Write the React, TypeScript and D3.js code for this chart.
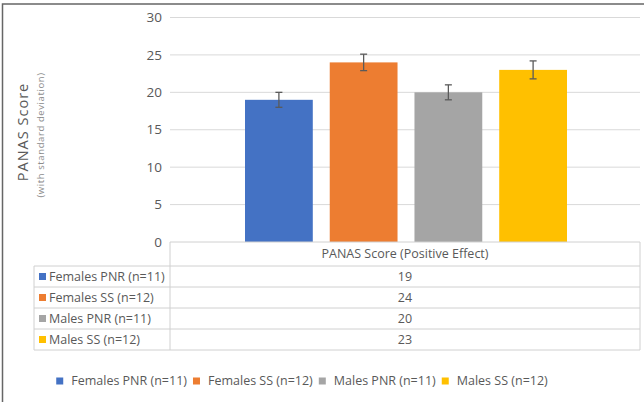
import React, { useEffect, useRef } from "react";
import * as d3 from "d3";

const categories = ["PANAS Score (Positive Effect)"];
const seriesNames = [
  "Females PNR (n=11)",
  "Females SS (n=12)",
  "Males PNR (n=11)",
  "Males SS (n=12)",
];
const seriesValues = [19, 24, 20, 23];
const seriesSD = [1.0, 1.1, 1.0, 1.2];
const seriesColors = ["#4472C4", "#ED7D31", "#A5A5A5", "#FFC000"];
const yTicks = [0, 5, 10, 15, 20, 25, 30];
const yTitle = "PANAS Score";
const ySubtitle = "(with standard deviation)";

const W = 644;
const H = 402;
const FONT = "'Open Sans', 'Noto Sans', sans-serif";
const TXT = "#595959";
const GRID = "#d9d9d9";
const TABLE = "#d0d0d0";

export default function App() {
  const ref = useRef<SVGSVGElement | null>(null);

  useEffect(() => {
    const svg = d3.select(ref.current);
    svg.selectAll("*").remove();

    const plotLeft = 170;
    const plotRight = 640;
    const y = d3.scaleLinear().domain([0, 30]).range([242, 17.5]);
    const xCat = d3
      .scaleBand<string>()
      .domain(categories)
      .range([plotLeft, plotRight])
      .paddingOuter(0);
    const catX = xCat(categories[0])!;
    const catW = xCat.bandwidth();
    const innerPad = 75;
    const xSeries = d3
      .scaleBand<string>()
      .domain(seriesNames)
      .range([catX + innerPad, catX + catW - innerPad + 2])
      .paddingInner(0.2)
      .paddingOuter(0);

    // frame
    svg
      .append("path")
      .attr("d", `M2.5,402 L2.5,4 L644,4`)
      .attr("fill", "none")
      .attr("stroke", "#666")
      .attr("stroke-width", 1.5);

    // gridlines
    svg
      .append("g")
      .selectAll("line")
      .data(yTicks.filter((t) => t > 0))
      .join("line")
      .attr("x1", plotLeft)
      .attr("x2", plotRight)
      .attr("y1", (d) => y(d))
      .attr("y2", (d) => y(d))
      .attr("stroke", GRID)
      .attr("stroke-width", 1);

    // tick labels
    svg
      .append("g")
      .selectAll("text")
      .data(yTicks)
      .join("text")
      .attr("x", 162)
      .attr("y", (d) => y(d))
      .attr("dy", "0.35em")
      .attr("text-anchor", "end")
      .attr("font-family", FONT)
      .attr("font-size", 13.5)
      .attr("fill", TXT)
      .text((d) => d);

    // y title
    svg
      .append("text")
      .attr("transform", `translate(28,132) rotate(-90)`)
      .attr("text-anchor", "middle")
      .attr("font-family", FONT)
      .attr("font-size", 14.5)
      .attr("letter-spacing", 1)
      .attr("fill", TXT)
      .text(yTitle);
    svg
      .append("text")
      .attr("transform", `translate(44,135) rotate(-90)`)
      .attr("text-anchor", "middle")
      .attr("font-family", FONT)
      .attr("font-size", 9.5)
      .attr("letter-spacing", 0.6)
      .attr("fill", "#8c8c8c")
      .text(ySubtitle);

    // bars
    svg
      .append("g")
      .selectAll("rect")
      .data(seriesNames)
      .join("rect")
      .attr("x", (d) => xSeries(d)!)
      .attr("width", xSeries.bandwidth())
      .attr("y", (_, i) => y(seriesValues[i]))
      .attr("height", (_, i) => y(0) - y(seriesValues[i]))
      .attr("fill", (_, i) => seriesColors[i]);

    // error bars
    const eb = svg.append("g").attr("stroke", "#5a5a5a").attr("stroke-width", 1.3);
    seriesNames.forEach((name, i) => {
      const cx = xSeries(name)! + xSeries.bandwidth() / 2;
      const top = y(seriesValues[i] + seriesSD[i]);
      const bot = y(seriesValues[i] - seriesSD[i]);
      eb.append("line").attr("x1", cx).attr("x2", cx).attr("y1", top).attr("y2", bot);
      eb.append("line").attr("x1", cx - 3.5).attr("x2", cx + 3.5).attr("y1", top).attr("y2", top);
      eb.append("line").attr("x1", cx - 3.5).attr("x2", cx + 3.5).attr("y1", bot).attr("y2", bot);
    });

    // data table
    const tableLeft = 34;
    const headerTop = y(0);
    const headerBottom = 266;
    const rowH = 21;
    const rowY = (i: number) => headerBottom + i * rowH;
    const tableBottom = rowY(seriesNames.length);
    const tg = svg.append("g").attr("stroke", TABLE).attr("stroke-width", 1);
    tg.append("line").attr("x1", plotLeft).attr("x2", plotRight).attr("y1", headerTop).attr("y2", headerTop);
    for (let i = 0; i <= seriesNames.length; i++) {
      tg.append("line")
        .attr("x1", tableLeft)
        .attr("x2", plotRight)
        .attr("y1", rowY(i))
        .attr("y2", rowY(i));
    }
    tg.append("line").attr("x1", plotLeft).attr("x2", plotLeft).attr("y1", headerTop).attr("y2", tableBottom);
    tg.append("line").attr("x1", plotRight).attr("x2", plotRight).attr("y1", headerTop).attr("y2", tableBottom);
    tg.append("line").attr("x1", tableLeft).attr("x2", tableLeft).attr("y1", headerBottom).attr("y2", tableBottom);

    const cx = catX + catW / 2;
    svg
      .append("text")
      .attr("x", cx)
      .attr("y", (headerTop + headerBottom) / 2)
      .attr("dy", "0.35em")
      .attr("text-anchor", "middle")
      .attr("font-family", FONT)
      .attr("font-size", 12.5)
      .attr("fill", TXT)
      .text(categories[0]);

    seriesNames.forEach((name, i) => {
      const yc = rowY(i) + rowH / 2;
      svg
        .append("rect")
        .attr("x", 39)
        .attr("y", yc - 3.5)
        .attr("width", 7)
        .attr("height", 7)
        .attr("fill", seriesColors[i]);
      svg
        .append("text")
        .attr("x", 49)
        .attr("y", yc)
        .attr("dy", "0.35em")
        .attr("font-family", FONT)
        .attr("font-size", 12.5)
        .attr("fill", TXT)
        .text(name);
      svg
        .append("text")
        .attr("x", cx)
        .attr("y", yc)
        .attr("dy", "0.35em")
        .attr("text-anchor", "middle")
        .attr("font-family", FONT)
        .attr("font-size", 12.5)
        .attr("fill", TXT)
        .text(seriesValues[i]);
    });

    // legend
    const lg = svg.append("g");
    const legY = 381;
    const items = seriesNames.map((name, i) => {
      const g = lg.append("g");
      g.append("rect")
        .attr("x", 0)
        .attr("y", legY - 3.5)
        .attr("width", 7)
        .attr("height", 7)
        .attr("fill", seriesColors[i]);
      const t = g
        .append("text")
        .attr("x", 15)
        .attr("y", legY)
        .attr("dy", "0.35em")
        .attr("font-family", FONT)
        .attr("font-size", 12.5)
        .attr("fill", TXT)
        .text(name);
      const w = (t.node() as SVGTextElement).getComputedTextLength();
      return { g, w: 15 + w };
    });
    const gap = 6;
    const total = d3.sum(items, (d) => d.w) + gap * (items.length - 1);
    let x = 302 - total / 2;
    items.forEach((it) => {
      it.g.attr("transform", `translate(${x},0)`);
      x += it.w + gap;
    });
  }, []);

  return (
    <svg
      ref={ref}
      width={W}
      height={H}
      style={{ display: "block", position: "absolute", left: 0, top: 0, background: "#fff" }}
    />
  );
}
